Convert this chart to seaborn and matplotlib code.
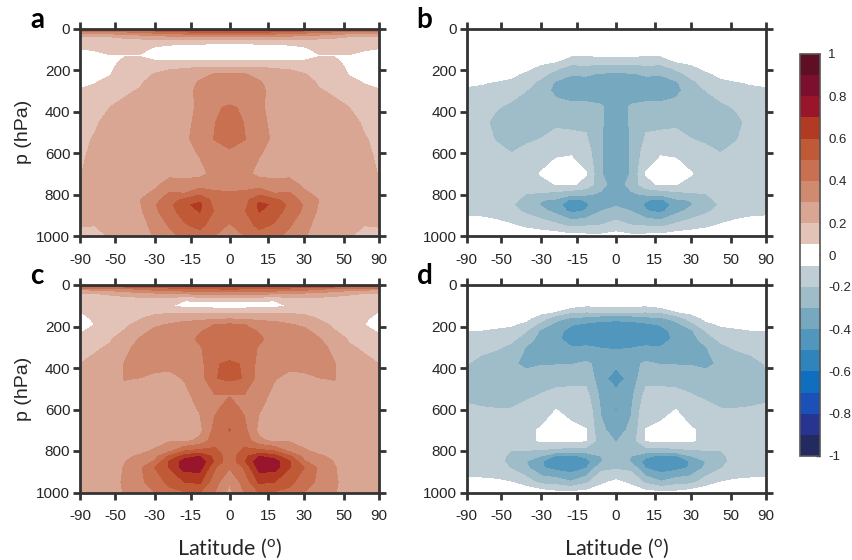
import numpy as np
import matplotlib
matplotlib.use("Agg")
import matplotlib.pyplot as plt
import seaborn as sns

# grid the fields were read on (one hemisphere, mirrored below)
lat_half = [0, 5.7, 11.5, 17.5, 23.6, 30, 36.9, 44.4, 53.1, 64.2, 90]
pressure = [0, 8, 20, 40, 70, 100, 130, 160, 190, 220, 260, 300, 380, 450, 530, 600, 700, 750, 800, 825, 850, 880, 950, 1000]

# each row is one latitude from lat_half, each value one pressure level
field_a = [
    [.85, .62, .49, .30, .105, .07, .07, .105, .21, .305, .33, .34, .41, .46, .45, .38, .33, .35, .42, .45, .46, .45, .39, .33],
    [.85, .62, .49, .30, .105, .07, .07, .105, .21, .305, .33, .34, .39, .395, .405, .36, .32, .35, .43, .46, .47, .49, .44, .40],
    [.85, .62, .49, .29, .105, .075, .075, .105, .205, .27, .31, .32, .31, .32, .33, .305, .28, .34, .49, .58, .62, .605, .53, .45],
    [.82, .58, .46, .28, .105, .075, .08, .105, .195, .24, .26, .27, .28, .28, .285, .28, .28, .32, .41, .52, .585, .55, .485, .43],
    [.80, .56, .44, .27, .11, .08, .08, .105, .19, .225, .25, .26, .27, .27, .27, .27, .28, .33, .42, .46, .47, .46, .41, .37],
    [.78, .54, .42, .26, .115, .09, .08, .105, .16, .205, .23, .25, .26, .265, .265, .265, .27, .28, .32, .36, .39, .38, .33, .31],
    [.76, .52, .38, .24, .125, .115, .098, .11, .15, .17, .19, .205, .23, .24, .245, .25, .25, .26, .28, .298, .29, .28, .26, .25],
    [.74, .50, .36, .22, .13, .115, .098, .11, .135, .15, .175, .19, .215, .23, .235, .24, .24, .245, .25, .255, .255, .25, .24, .23],
    [.72, .50, .34, .20, .13, .115, .098, .085, .085, .095, .125, .15, .20, .22, .23, .235, .235, .24, .24, .24, .235, .23, .215, .205],
    [.72, .50, .34, .19, .13, .105, .085, .08, .08, .085, .095, .125, .16, .19, .205, .21, .21, .215, .22, .22, .22, .215, .20, .18],
    [.70, .50, .33, .19, .13, .095, .08, .06, .06, .07, .085, .105, .13, .15, .165, .18, .195, .20, .21, .215, .21, .21, .205, .17],
]
field_c = [
    [.90, .60, .50, .34, .115, .06, .17, .285, .41, .43, .45, .46, .51, .52, .395, .44, .505, .46, .45, .44, .43, .405, .31, .27],
    [.90, .60, .49, .33, .115, .06, .17, .28, .40, .43, .45, .46, .495, .495, .395, .385, .43, .46, .52, .57, .585, .51, .44, .40],
    [.90, .60, .49, .33, .115, .06, .175, .28, .33, .39, .42, .39, .36, .35, .33, .305, .27, .32, .53, .70, .77, .74, .615, .50],
    [.88, .58, .47, .32, .11, .065, .18, .28, .32, .34, .35, .35, .32, .305, .28, .27, .27, .28, .50, .64, .75, .74, .60, .49],
    [.85, .56, .45, .30, .14, .11, .18, .26, .305, .32, .33, .34, .32, .28, .27, .27, .27, .29, .38, .52, .61, .605, .53, .47],
    [.85, .55, .44, .29, .16, .115, .17, .24, .285, .315, .33, .34, .33, .28, .27, .265, .26, .27, .31, .36, .41, .50, .44, .40],
    [.82, .52, .40, .27, .16, .12, .14, .19, .23, .27, .305, .33, .35, .298, .26, .255, .25, .26, .28, .31, .34, .38, .38, .35],
    [.80, .52, .38, .25, .15, .12, .13, .15, .18, .205, .245, .275, .305, .305, .26, .25, .25, .255, .27, .285, .297, .305, .31, .305],
    [.80, .50, .34, .22, .15, .125, .12, .125, .14, .16, .19, .21, .24, .25, .25, .245, .245, .25, .25, .255, .26, .265, .27, .27],
    [.80, .50, .33, .20, .14, .13, .115, .105, .10, .108, .14, .185, .225, .24, .245, .245, .245, .245, .25, .25, .25, .25, .25, .25],
    [.80, .50, .32, .20, .14, .115, .095, .08, .07, .09, .12, .15, .20, .215, .225, .23, .24, .24, .24, .24, .24, .24, .245, .25],
]
field_b = [
    [-.01, -.01, -.02, -.02, -.03, -.05, -.085, -.16, -.25, -.32, -.34, -.35, -.35, -.36, -.36, -.37, -.36, -.35, -.34, -.33, -.31, -.27, -.16, -.06],
    [-.01, -.01, -.02, -.02, -.03, -.05, -.09, -.17, -.24, -.31, -.34, -.345, -.29, -.29, -.295, -.295, -.295, -.27, -.315, -.33, -.32, -.30, -.195, -.08],
    [-.01, -.01, -.02, -.02, -.03, -.05, -.097, -.16, -.23, -.29, -.33, -.34, -.28, -.22, -.19, -.15, -.095, -.13, -.29, -.39, -.42, -.39, -.205, -.075],
    [-.01, -.01, -.02, -.02, -.03, -.05, -.095, -.16, -.24, -.295, -.33, -.34, -.28, -.22, -.18, -.105, -.07, -.085, -.28, -.42, -.44, -.425, -.22, -.07],
    [-.01, -.01, -.02, -.02, -.03, -.04, -.07, -.10, -.18, -.24, -.315, -.325, -.265, -.22, -.17, -.105, -.085, -.098, -.24, -.31, -.38, -.33, -.175, -.05],
    [-.01, -.01, -.02, -.02, -.03, -.03, -.05, -.085, -.12, -.17, -.23, -.26, -.285, -.25, -.20, -.14, -.095, -.12, -.22, -.295, -.31, -.27, -.14, -.05],
    [-.01, -.01, -.02, -.02, -.02, -.02, -.04, -.06, -.085, -.115, -.16, -.20, -.25, -.26, -.22, -.17, -.13, -.13, -.205, -.23, -.24, -.22, -.12, -.04],
    [-.01, -.01, -.01, -.02, -.02, -.02, -.03, -.04, -.06, -.085, -.115, -.155, -.225, -.26, -.24, -.20, -.14, -.14, -.15, -.17, -.19, -.17, -.09, -.03],
    [-.01, -.01, -.01, -.01, -.02, -.02, -.02, -.03, -.05, -.07, -.105, -.135, -.19, -.235, -.21, -.17, -.14, -.135, -.135, -.14, -.14, -.13, -.08, -.03],
    [-.01, -.01, -.01, -.01, -.01, -.01, -.02, -.03, -.05, -.07, -.095, -.115, -.14, -.16, -.15, -.14, -.13, -.13, -.13, -.13, -.125, -.12, -.07, -.02],
    [-.01, -.01, -.01, -.01, -.01, -.01, -.02, -.03, -.05, -.065, -.09, -.11, -.13, -.135, -.135, -.13, -.125, -.125, -.125, -.125, -.12, -.115, -.07, -.02],
]
field_d = [
    [-.01, -.01, -.02, -.03, -.04, -.09, -.195, -.37, -.44, -.45, -.44, -.405, -.37, -.46, -.36, -.41, -.33, -.305, -.27, -.255, -.24, -.215, -.08, -.04],
    [-.01, -.01, -.02, -.03, -.04, -.09, -.195, -.36, -.44, -.46, -.44, -.405, -.33, -.36, -.33, -.31, -.285, -.26, -.26, -.30, -.31, -.23, -.12, -.05],
    [-.01, -.01, -.02, -.03, -.04, -.098, -.20, -.33, -.42, -.46, -.45, -.39, -.285, -.23, -.17, -.13, -.098, -.095, -.26, -.38, -.44, -.41, -.22, -.07],
    [-.01, -.01, -.02, -.03, -.04, -.07, -.19, -.31, -.39, -.44, -.46, -.395, -.305, -.23, -.17, -.12, -.085, -.09, -.26, -.43, -.50, -.46, -.29, -.08],
    [-.01, -.01, -.02, -.03, -.04, -.07, -.105, -.27, -.33, -.36, -.37, -.36, -.305, -.24, -.17, -.10, -.07, -.08, -.24, -.42, -.47, -.44, -.24, -.08],
    [-.01, -.01, -.02, -.02, -.03, -.05, -.08, -.15, -.24, -.32, -.34, -.345, -.305, -.255, -.195, -.15, -.09, -.09, -.22, -.305, -.39, -.39, -.23, -.05],
    [-.01, -.01, -.01, -.02, -.02, -.03, -.04, -.08, -.125, -.195, -.25, -.305, -.32, -.265, -.22, -.17, -.12, -.125, -.205, -.26, -.30, -.28, -.15, -.03],
    [-.01, -.01, -.01, -.01, -.02, -.02, -.03, -.05, -.09, -.125, -.175, -.225, -.285, -.275, -.25, -.195, -.14, -.14, -.205, -.22, -.23, -.21, -.10, -.03],
    [-.01, -.01, -.01, -.01, -.02, -.02, -.03, -.05, -.085, -.11, -.15, -.185, -.27, -.28, -.26, -.195, -.14, -.135, -.14, -.165, -.165, -.14, -.09, -.03],
    [-.01, -.01, -.01, -.01, -.01, -.02, -.03, -.05, -.08, -.102, -.14, -.17, -.235, -.25, -.24, -.19, -.13, -.13, -.13, -.13, -.13, -.125, -.09, -.03],
    [-.01, -.01, -.01, -.01, -.01, -.02, -.03, -.05, -.075, -.10, -.125, -.15, -.185, -.24, -.22, -.185, -.13, -.13, -.13, -.13, -.13, -.125, -.09, -.03],
]

lat_ticks = [-90, -50, -30, -15, 0, 15, 30, 50, 90]
p_ticks = [0, 200, 400, 600, 800, 1000]
cbar_ticks = [-1, -.8, -.6, -.4, -.2, 0, .2, .4, .6, .8, 1]
cbar_labels = ["-1", "-0.8", "-0.6", "-0.4", "-0.2", "0", "0.2", "0.4", "0.6", "0.8", "1"]
levels = [-1, -.9, -.8, -.7, -.6, -.5, -.4, -.3, -.2, -.1, .1, .2, .3, .4, .5, .6, .7, .8, .9, 1]
band_colors = ["#222a60", "#283590", "#1a50b8", "#0f6fbe", "#2f84bc", "#5197bd", "#76a8c0", "#9fbcc9", "#bfcdd4",
               "#ffffff",
               "#e3c2b7", "#d8a692", "#d08a70", "#c87050", "#c05a36", "#b23a22", "#99152b", "#7d0f2e", "#5e0f24"]

sns.set_theme(style="ticks")
plt.rcParams["font.family"] = ["Liberation Sans", "DejaVu Sans"]
plt.rcParams["axes.unicode_minus"] = False
plt.rcParams["mathtext.default"] = "regular"
dark = "#333333"
text_col = "#262626"


def mirror(field):
    half = np.array(field)
    return np.vstack([half[:0:-1], half]).T


lats = np.array([-v for v in lat_half[:0:-1]] + lat_half)
W, H = 852, 560
panels = [("a", field_a, 80, 28.5), ("b", field_b, 466.5, 28.5), ("c", field_c, 80, 285), ("d", field_d, 466.5, 285)]

fig = plt.figure(figsize=(W / 100, H / 100), dpi=100)
palette = sns.color_palette(band_colors, n_colors=len(band_colors))

for name, field, x0, y0 in panels:
    ax = fig.add_axes([x0 / W, 1 - (y0 + 207.5) / H, 299 / W, 207.5 / H])
    cf = ax.contourf(lats, pressure, mirror(field), levels=levels, colors=palette, extend="neither")
    ax.set_xscale("function", functions=(lambda v: np.sin(np.radians(v)),
                                         lambda v: np.degrees(np.arcsin(np.clip(v, -1, 1)))))
    ax.set_xlim(-90, 90)
    ax.set_ylim(1000, 0)
    ax.set_xticks(lat_ticks)
    ax.set_xticklabels([str(t) for t in lat_ticks])
    ax.minorticks_off()
    ax.set_yticks(p_ticks)
    ax.tick_params(axis="both", which="major", direction="out", length=5, width=2, color=dark,
                   labelcolor=text_col, labelsize=11, top=True, right=True, pad=2)
    ax.tick_params(axis="x", pad=7)
    for spine in ax.spines.values():
        spine.set_visible(True)
        spine.set_color(dark)
        spine.set_linewidth(2)
    if name in "ac":
        ax.set_ylabel("p (hPa)", fontsize=14, color=text_col, labelpad=3)
    if name in "cd":
        ax.set_xlabel("Latitude ($^{o}$)", family="Lato", fontsize=15.5, color=text_col, labelpad=10)
    fig.text((x0 - 50) / W, 1 - (y0 - 9) / H, name, family="Lato",
             fontweight="bold", fontsize=20, color="black", va="center")

cax = fig.add_axes([799.5 / W, 1 - 456 / H, 20.5 / W, 402 / H])
cbar = fig.colorbar(cf, cax=cax, ticks=cbar_ticks, drawedges=False)
cbar.ax.set_yticklabels(cbar_labels)
cbar.ax.tick_params(direction="in", length=3, width=1, color=dark, labelcolor=text_col, labelsize=9.5, right=True, pad=6)
cbar.outline.set_edgecolor("#555555")
cbar.outline.set_linewidth(1.2)

plt.savefig("out.png", dpi=100)
plt.close()
